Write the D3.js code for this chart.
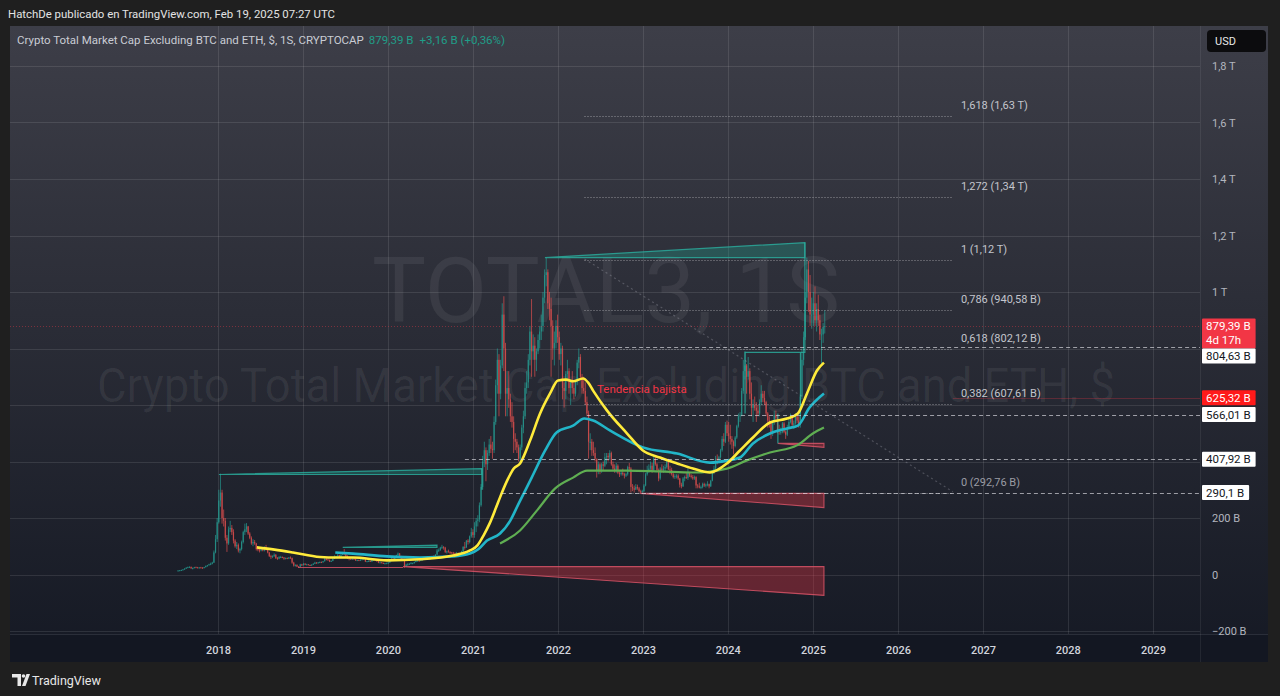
<!DOCTYPE html>
<html>
<head>
<meta charset="utf-8">
<script src="https://cdn.jsdelivr.net/npm/d3@7"></script>
<style>
  body { margin: 0; background: #1f1f1f; }
  svg { display: block; font-family: Roboto, "Noto Sans", sans-serif; }
</style>
</head>
<body>
<svg id="chart" width="1280" height="696"></svg>
<script>
// ------- DATA (values in billions USD) -------
// weekly candles per year: [high, low, close]; open = previous close
const candles2017 = [[15,12,14],[16,13,15],[17,14,16],[19,15,18],[22,17,21],[26,20,24],[28,23,26],[29,24,27],[28,20,22],[25,18,23],[27,22,26],[28,24,25],[27,23,24],[26,22,25],[27,23,24],[26,22,23],[27,22,26],[32,25,30],[34,28,33],[38,32,36],[42,33,38],[45,36,42],[85,41,78],[140,75,125],[200,115,185]];
const candles2018 = [[300,180,262],[357,240,290],[300,180,200],[230,170,190],[200,120,130],[140,80,110],[170,105,160],[190,150,165],[175,140,150],[160,110,120],[125,95,100],[115,90,105],[110,78,85],[95,75,90],[120,85,115],[155,110,150],[180,140,160],[182,150,170],[172,140,145],[150,125,130],[135,105,110],[125,100,115],[122,105,110],[112,85,90],[95,82,88],[92,78,85],[95,82,90],[95,82,85],[100,82,95],[105,85,90],[92,75,78],[80,62,65],[70,55,62],[68,58,65],[75,62,70],[72,55,58],[62,52,56],[65,54,62],[66,58,62],[64,58,60],[62,52,56],[60,54,58],[60,55,57],[62,55,60],[64,56,58],[60,38,42],[45,28,32],[36,28,34],[36,26,28],[30,24,27],[38,26,36],[38,30,33],[40,32,38]];
const candles2019 = [[40,33,35],[38,33,36],[37,33,34],[35,30,32],[36,31,35],[40,34,38],[45,37,42],[44,39,41],[44,39,43],[46,41,44],[46,42,43],[48,42,47],[58,46,55],[58,50,53],[56,50,52],[53,44,46],[50,45,48],[58,47,56],[68,55,62],[66,58,64],[72,62,68],[70,60,62],[72,60,70],[80,68,78],[90,68,72],[78,62,64],[68,55,58],[62,50,56],[58,52,53],[58,52,56],[60,53,55],[56,48,50],[53,48,51],[53,48,49],[54,48,53],[56,51,54],[58,52,56],[56,44,46],[48,44,47],[50,45,48],[49,45,46],[54,44,52],[55,50,52],[54,49,50],[51,46,47],[48,40,42],[45,40,43],[44,40,41],[42,38,39],[41,36,40],[42,39,40],[44,39,42]];
const candles2020 = [[50,42,48],[58,47,56],[58,52,54],[62,53,60],[70,58,68],[78,66,74],[76,62,64],[66,54,56],[60,52,55],[56,24,30],[38,27,35],[40,32,36],[40,34,38],[44,37,40],[42,37,40],[46,39,44],[52,43,48],[54,46,50],[52,45,49],[54,48,51],[56,49,55],[60,54,57],[59,54,56],[58,53,55],[57,52,54],[60,53,59],[66,58,65],[68,62,64],[72,63,70],[90,70,85],[92,80,86],[98,84,95],[105,90,98],[100,88,95],[98,76,80],[85,74,82],[88,78,80],[82,72,78],[80,74,77],[80,72,75],[78,72,74],[80,72,76],[78,68,70],[78,66,76],[84,75,82],[100,80,98],[115,88,96],[122,94,120],[125,106,115],[138,110,135],[165,130,150],[160,130,140]];
const candles2021 = [[185,130,170],[200,150,190],[210,170,195],[255,185,245],[320,240,310],[420,300,400],[470,380,440],[450,330,390],[440,370,430],[480,420,460],[490,430,445],[470,410,440],[560,430,540],[690,530,670],[800,640,760],[780,560,640],[760,620,740],[960,730,920],[985,720,800],[820,560,640],[720,560,660],[720,590,620],[640,540,560],[610,520,540],[560,430,480],[500,440,470],[480,430,450],[460,400,410],[460,393,450],[530,440,520],[580,500,560],[680,550,660],[720,640,680],[780,660,760],[880,740,860],[975,700,790],[850,760,810],[840,700,760],[800,720,790],[850,780,830],[880,800,860],[920,830,880],[1000,860,980],[1080,960,1060],[1122,1020,1070],[1080,940,960],[1000,900,940],[980,700,880],[900,760,800],[860,740,820],[900,800,880],[920,820,840]];
const candles2022 = [[860,760,780],[820,740,800],[810,620,660],[680,591,650],[720,620,710],[760,690,720],[730,640,660],[690,600,680],[720,640,660],[680,620,640],[690,630,680],[760,670,750],[800,730,770],[780,690,700],[710,640,660],[700,640,650],[680,600,610],[630,560,570],[580,410,470],[500,440,470],[480,420,440],[470,420,430],[450,400,410],[410,343,370],[400,355,390],[395,355,365],[395,360,390],[400,370,385],[430,380,415],[430,390,420],[430,400,415],[440,405,430],[435,385,390],[400,370,375],[390,360,370],[395,360,385],[390,355,360],[370,345,355],[370,350,360],[375,350,355],[360,340,350],[360,345,355],[385,350,380],[395,370,375],[380,290,310],[320,295,305],[315,290,300],[320,300,310],[318,300,305],[310,290,295],[300,288,292],[300,288,295]];
const candles2023 = [[320,292,315],[360,312,355],[385,350,370],[390,360,375],[400,365,385],[395,360,370],[420,365,410],[421,385,390],[395,365,370],[375,330,340],[380,335,375],[390,360,370],[385,360,375],[390,365,380],[405,375,400],[410,370,372],[385,355,370],[378,350,355],[360,340,345],[355,338,348],[355,340,350],[355,335,340],[342,308,318],[325,305,312],[345,310,340],[350,330,345],[360,338,342],[375,335,360],[362,345,350],[355,340,345],[352,335,340],[350,335,345],[348,305,315],[320,305,312],[325,305,308],[315,302,310],[325,305,320],[325,310,315],[322,308,318],[330,312,320],[322,305,312],[335,310,332],[370,330,360],[385,355,375],[420,370,410],[425,390,405],[420,395,415],[445,410,440],[490,435,480],[500,455,470],[540,465,530],[545,490,500]];
const candles2024 = [[540,470,490],[530,460,480],[490,445,470],[475,425,455],[490,450,485],[530,480,525],[570,520,560],[575,540,565],[660,560,650],[760,640,720],[790,690,740],[745,640,700],[770,690,720],[730,620,640],[680,560,590],[620,540,600],[630,580,590],[610,540,580],[600,560,570],[620,560,610],[670,600,640],[650,610,625],[650,600,610],[615,560,570],[575,520,545],[560,520,540],[545,480,500],[545,490,540],[580,530,565],[580,540,555],[565,500,510],[530,495,505],[520,495,505],[540,500,535],[540,500,505],[510,480,495],[530,490,520],[550,515,540],[570,535,560],[565,520,530],[545,515,535],[570,530,560],[565,535,545],[560,520,530],[640,520,630],[800,620,760],[860,740,840],[1000,830,980],[1122,960,1080],[1110,930,1000],[1060,880,920],[980,870,920],[1000,880,960]];
const candles2025 = [[1020,880,900],[960,860,940],[990,880,900],[920,830,850],[870,745,850],[890,820,876.23],[935,853,879.39]];
const firstOpen = 12;
const yearBlocks = [
  ["2017-07-10", candles2017], ["2018-01-01", candles2018], ["2019-01-07", candles2019],
  ["2020-01-06", candles2020], ["2021-01-04", candles2021], ["2022-01-03", candles2022],
  ["2023-01-02", candles2023], ["2024-01-01", candles2024], ["2025-01-06", candles2025]
];

// moving averages: [date, value]
const maYellow = [["2018-06-17",96],["2018-09-01",88],["2018-11-19",78],["2019-03-15",62],["2019-05-27",60],["2019-08-04",60],["2019-12-28",50],["2020-05-18",54],["2020-10-07",67],["2020-12-19",85],["2021-01-20",103],["2021-02-15",138],["2021-03-13",180],["2021-04-10",237],["2021-04-27",273],["2021-05-28",333],["2021-06-25",375],["2021-07-22",393],["2021-09-03",474],["2021-10-16",570],["2021-11-28",641],["2022-01-01",687],["2022-02-05",690],["2022-03-07",684],["2022-04-19",694],["2022-05-10",680],["2022-06-01",651],["2022-07-31",580],["2022-10-25",499],["2023-01-01",439],["2023-03-15",414],["2023-05-28",393],["2023-08-04",375],["2023-10-16",361],["2023-12-28",393],["2024-02-22",439],["2024-04-18",485],["2024-06-30",538],["2024-09-11",552],["2024-10-28",570],["2024-12-06",641],["2025-01-18",722],["2025-02-17",750]];
const maCyan = [["2019-05-20",78],["2019-08-04",74],["2019-12-28",64],["2020-05-18",60],["2020-10-07",64],["2020-12-19",74],["2021-01-25",90],["2021-03-02",120],["2021-04-27",145],["2021-06-10",191],["2021-07-16",251],["2021-09-10",343],["2021-11-07",439],["2021-12-26",503],["2022-03-07",527],["2022-04-24",552],["2022-06-01",545],["2022-08-12",510],["2023-01-01",450],["2023-05-28",428],["2023-10-16",396],["2023-12-28",403],["2024-02-22",414],["2024-04-18",464],["2024-06-30",499],["2024-09-11",517],["2024-10-28",527],["2024-12-17",591],["2025-02-17",641]];
const maGreen = [["2021-04-27",110],["2021-07-22",156],["2021-10-03",227],["2021-12-20",305],["2022-03-07",343],["2022-05-06",368],["2022-10-25",368],["2023-03-15",365],["2023-08-04",361],["2023-12-28",375],["2024-03-23",404],["2024-06-30",432],["2024-10-24",457],["2024-12-31",499],["2025-02-17",520]];

// drawings
const tealWedges = [
  { from: "2018-01-05", to: "2021-02-08", base: 354, top: 375 },
  { from: "2019-06-21", to: "2020-07-30", base: 96, top: 104 },
  { from: "2021-11-06", to: "2024-11-27", base: 1122, top: 1175 }
];
const redWedges = [
  { from: "2020-03-06", to: "2025-02-17", base: 28, bottom: -74 },
  { from: "2022-12-19", to: "2025-02-17", base: 287, bottom: 237 },
  { from: "2024-08-03", to: "2025-02-17", base: 464, bottom: 450 }
];
const tealLines = [
  [["2024-03-15",570],["2024-03-15",786],["2024-11-27",786],["2024-11-27",1175]],
  [["2024-11-08",786],["2024-11-08",570]],
  [["2024-08-03",570],["2024-08-03",464]],
  [["2021-02-08",375],["2021-02-08",300]]
];
const redLines = [[["2018-12-11",25],["2020-03-06",25]]];

const fibRatios = ["0", "0,382", "0,618", "0,786", "1", "1,272", "1,618"];
const fibPrices = [292.76, 607.61, 802.12, 940.58, 1116.97, 1341.3, 1626.0];
const fibPriceText = ["292,76 B", "607,61 B", "802,12 B", "940,58 B", "1,12 T", "1,34 T", "1,63 T"];
const fibFrom = "2022-04-25", fibTo = "2026-08-25";

const rays = [
  { from: "2022-04-19", v: 804.63 },
  { from: "2022-05-06", v: 566.01 },
  { from: "2020-11-27", v: 407.92 },
  { from: "2021-05-05", v: 290.1 }
];
const lastPrice = 879.39;

const priceTicks = [-200, 0, 200, 400, 600, 800, 1000, 1200, 1400, 1600, 1800];
const yearTicks = ["2018","2019","2020","2021","2022","2023","2024","2025","2026","2027","2028","2029"];
const priceTags = [
  { v: 879.39, lines: ["879,39 B", "4d 17h"], kind: "last" },
  { v: 804.63, lines: ["804,63 B"], kind: "line" },
  { v: 625.32, lines: ["625,32 B"], kind: "red" },
  { v: 566.01, lines: ["566,01 B"], kind: "line" },
  { v: 407.92, lines: ["407,92 B"], kind: "line" },
  { v: 290.1, lines: ["290,1 B"], kind: "line" }
];

// ------- SETUP -------
const parse = d3.utcParse("%Y-%m-%d");
const svg = d3.select("#chart");
const plot = { left: 10, right: 1200, top: 26, bottom: 634 };

const x = d3.scaleUtc().domain([parse("2018-01-01"), parse("2029-01-01")]).range([218, 1153]);
const y = d3.scaleLinear().domain([-200, 1800]).range([631, 66]);

const defs = svg.append("defs");
const grad = defs.append("linearGradient").attr("id", "bg")
  .attr("x1", 0).attr("y1", 0).attr("x2", 0).attr("y2", 1);
grad.append("stop").attr("offset", "0%").attr("stop-color", "#3d3e48");
grad.append("stop").attr("offset", "45%").attr("stop-color", "#2b2d37");
grad.append("stop").attr("offset", "100%").attr("stop-color", "#151924");
defs.append("clipPath").attr("id", "clip").append("rect")
  .attr("x", plot.left).attr("y", plot.top)
  .attr("width", plot.right - plot.left).attr("height", plot.bottom - plot.top);

// panel
svg.append("rect").attr("x", 10).attr("y", 26).attr("width", 1258).attr("height", 636).attr("fill", "url(#bg)");
svg.append("rect").attr("x", 10).attr("y", plot.bottom).attr("width", 1258).attr("height", 28).attr("fill", "#131722");
svg.append("line").attr("x1", 10).attr("x2", 1268).attr("y1", plot.bottom + 0.5).attr("y2", plot.bottom + 0.5)
  .attr("stroke", "#2a2e39");
svg.append("line").attr("x1", plot.right + 0.5).attr("x2", plot.right + 0.5).attr("y1", 26).attr("y2", 662)
  .attr("stroke", "rgba(255,255,255,0.07)");

const chart = svg.append("g").attr("clip-path", "url(#clip)");

// grid
chart.append("g").selectAll("line").data(priceTicks).join("line")
  .attr("x1", plot.left).attr("x2", plot.right)
  .attr("y1", d => Math.round(y(d)) + 0.5).attr("y2", d => Math.round(y(d)) + 0.5)
  .attr("stroke", "rgba(255,255,255,0.1)");
chart.append("g").selectAll("line").data(yearTicks).join("line")
  .attr("x1", d => Math.round(x(parse(d + "-01-01"))) + 0.5).attr("x2", d => Math.round(x(parse(d + "-01-01"))) + 0.5)
  .attr("y1", plot.top).attr("y2", plot.bottom)
  .attr("stroke", "rgba(255,255,255,0.1)");

// watermarks
chart.append("text").attr("x", 606).attr("y", 322).attr("text-anchor", "middle")
  .attr("font-size", 90).attr("fill", "rgba(255,255,255,0.065)")
  .attr("textLength", 468).attr("lengthAdjust", "spacingAndGlyphs")
  .text("TOTAL3, 1S");
chart.append("text").attr("x", 606).attr("y", 402).attr("text-anchor", "middle")
  .attr("font-size", 48).attr("fill", "rgba(255,255,255,0.065)")
  .attr("textLength", 1018).attr("lengthAdjust", "spacingAndGlyphs")
  .text("Crypto Total Market Cap Excluding BTC and ETH, $");

// ------- CANDLES -------
const candles = [];
let prevClose = firstOpen;
yearBlocks.forEach(([start, rows]) => {
  const d0 = parse(start);
  rows.forEach((r, i) => {
    candles.push({ date: d3.utcDay.offset(d0, 7 * i), open: prevClose, high: r[0], low: r[1], close: r[2] });
    prevClose = r[2];
  });
});
const upColor = "#26a69a", downColor = "#ef5350";
const cg = chart.append("g").attr("opacity", 0.8);
cg.selectAll("line").data(candles).join("line")
  .attr("x1", d => x(d.date) + 0.8).attr("x2", d => x(d.date) + 0.8)
  .attr("y1", d => y(Math.max(d.high, d.open, d.close)))
  .attr("y2", d => y(Math.min(d.low, d.open, d.close)))
  .attr("stroke", d => d.close >= d.open ? upColor : downColor)
  .attr("stroke-width", 0.8);
cg.selectAll("rect").data(candles).join("rect")
  .attr("x", d => x(d.date) + 0.2).attr("width", 1.2)
  .attr("y", d => y(Math.max(d.open, d.close)))
  .attr("height", d => Math.max(1, y(Math.min(d.open, d.close)) - y(Math.max(d.open, d.close))))
  .attr("fill", d => d.close >= d.open ? upColor : downColor);

// ------- DRAWINGS -------
const pt = p => [x(parse(p[0])), y(p[1])];
const dg = chart.append("g");
tealWedges.forEach(w => {
  const a = [x(parse(w.from)), y(w.base)], b = [x(parse(w.to)), y(w.top)], c = [x(parse(w.to)), y(w.base)];
  dg.append("path").attr("d", d3.line()([a, b, c]) + "Z")
    .attr("fill", "rgba(34,171,148,0.3)").attr("stroke", "#2bb0a0").attr("stroke-width", 1.2).attr("stroke-opacity", 0.8);
});
redWedges.forEach(w => {
  const a = [x(parse(w.from)), y(w.base)], b = [x(parse(w.to)), y(w.base)], c = [x(parse(w.to)), y(w.bottom)];
  dg.append("path").attr("d", d3.line()([a, b, c]) + "Z")
    .attr("fill", "rgba(242,54,69,0.35)").attr("stroke", "#e0566a").attr("stroke-width", 1.1).attr("stroke-opacity", 0.8);
});
tealLines.forEach(l => dg.append("path").attr("d", d3.line()(l.map(pt)))
  .attr("fill", "none").attr("stroke", "#2bb0a0").attr("stroke-width", 1.2).attr("stroke-opacity", 0.8));
redLines.forEach(l => dg.append("path").attr("d", d3.line()(l.map(pt)))
  .attr("fill", "none").attr("stroke", "#e0566a").attr("stroke-width", 1.1).attr("stroke-opacity", 0.8));

// ------- MOVING AVERAGES -------
const maLine = d3.line().x(d => x(parse(d[0]))).y(d => y(d[1])).curve(d3.curveMonotoneX);
[[maGreen, "#5fae52", 2.2], [maCyan, "#22b5c8", 2.6], [maYellow, "#ffeb3b", 2.6]].forEach(([data, color, w]) => {
  chart.append("path").datum(data).attr("d", maLine)
    .attr("fill", "none").attr("stroke", color).attr("stroke-width", w).attr("stroke-linejoin", "round");
});

// ------- FIB / LEVELS -------
const fx0 = x(parse(fibFrom)), fx1 = x(parse(fibTo));
chart.append("line").attr("x1", fx0).attr("y1", y(fibPrices[4])).attr("x2", fx1).attr("y2", y(fibPrices[0]))
  .attr("stroke", "rgba(190,190,200,0.28)").attr("stroke-width", 1.2).attr("stroke-dasharray", "2,3");
const fibG = chart.append("g");
fibPrices.forEach((p, i) => {
  const yy = Math.round(y(p)) + 1.5;
  fibG.append("line").attr("x1", fx0).attr("x2", fx1).attr("y1", yy).attr("y2", yy)
    .attr("stroke", "rgba(210,210,215,0.6)").attr("stroke-dasharray", "1,2");
  fibG.append("text").attr("x", fx1 + 8).attr("y", yy - 8)
    .attr("font-size", 11).attr("fill", i === 0 ? "#9a9ca4" : "#c3c5cc")
    .text(`${fibRatios[i]} (${fibPriceText[i]})`);
});
rays.forEach(r => {
  const yy = Math.round(y(r.v)) + 0.5;
  chart.append("line").attr("x1", x(parse(r.from))).attr("x2", plot.right).attr("y1", yy).attr("y2", yy)
    .attr("stroke", "rgba(225,225,230,0.65)").attr("stroke-dasharray", "4,3");
});
chart.append("line").attr("x1", plot.left).attr("x2", plot.right)
  .attr("y1", Math.round(y(lastPrice)) + 0.5).attr("y2", Math.round(y(lastPrice)) + 0.5)
  .attr("stroke", "rgba(242,54,69,0.4)").attr("stroke-dasharray", "1,2");
chart.append("line").attr("x1", fx1).attr("x2", plot.right)
  .attr("y1", Math.round(y(625.32)) + 0.5).attr("y2", Math.round(y(625.32)) + 0.5)
  .attr("stroke", "rgba(242,54,69,0.28)");
chart.append("text").attr("x", 597).attr("y", 393).attr("font-size", 11.5).attr("fill", "#f23645")
  .text("Tendencia bajista");

// ------- AXES -------
// price tags first, so that the tick labels they would cover can be left out
const tagColors = { last: ["#f23645", "#ffffff"], red: ["#ff1a1a", "#ffffff"], line: ["#ffffff", "#131722"] };
const tagBoxes = [];
let prevBottom = -Infinity;
priceTags.forEach(t => {
  const h = 15 * t.lines.length;
  let top = y(t.v) - 7.5;
  if (top < prevBottom) top = prevBottom;
  prevBottom = top + h;
  tagBoxes.push({ t, top, h });
});
const fmtPrice = v => v === 0 ? "0" : Math.abs(v) >= 1000
  ? String(v / 1000).replace(".", ",") + " T"
  : (v < 0 ? "−" : "") + Math.abs(v) + " B";
const visibleTicks = priceTicks.filter(v => !tagBoxes.some(b => y(v) > b.top - 6 && y(v) < b.top + b.h + 6));
svg.append("g").attr("transform", "translate(1212,0)")
  .call(d3.axisRight(y).tickValues(visibleTicks).tickSize(0).tickPadding(0).tickFormat(fmtPrice))
  .call(g => g.select(".domain").remove())
  .selectAll("text").attr("fill", "#b2b5be").attr("font-size", 11).attr("font-family", "Roboto");
svg.append("g").attr("transform", `translate(0,${plot.bottom + 12})`)
  .call(d3.axisBottom(x).tickValues(yearTicks.map(d => parse(d + "-01-01"))).tickSize(0).tickPadding(0)
    .tickFormat(d3.utcFormat("%Y")))
  .call(g => g.select(".domain").remove())
  .selectAll("text").attr("fill", "#d1d4dc").attr("font-size", 11).attr("font-weight", 500).attr("font-family", "Roboto");

tagBoxes.forEach(({ t, top, h }) => {
  const g = svg.append("g");
  const rect = g.append("rect").attr("x", 1202).attr("y", top).attr("height", h).attr("rx", 1).attr("fill", tagColors[t.kind][0]);
  let w = 0;
  t.lines.forEach((s, i) => {
    const tx = g.append("text").attr("x", 1206).attr("y", top + 11.5 + 14 * i)
      .attr("font-size", 11.5).attr("fill", tagColors[t.kind][1]).text(s);
    w = Math.max(w, tx.node().getComputedTextLength());
  });
  rect.attr("width", w + 9);
});

// ------- HEADER / LEGEND / FOOTER -------
svg.append("text").attr("x", 8).attr("y", 18).attr("font-size", 11.5).attr("fill", "#e3e3e3")
  .attr("textLength", 327).attr("lengthAdjust", "spacingAndGlyphs")
  .text("HatchDe publicado en TradingView.com, Feb 19, 2025 07:27 UTC");
const leg = svg.append("text").attr("x", 17).attr("y", 44).attr("font-size", 11.5);
leg.append("tspan").attr("fill", "#c9ccd4").text("Crypto Total Market Cap Excluding BTC and ETH, $, 1S, CRYPTOCAP");
leg.append("tspan").attr("fill", "#1f9e88").attr("dx", 5).text("879,39 B");
leg.append("tspan").attr("fill", "#1f9e88").attr("dx", 6).text("+3,16 B (+0,36%)");

svg.append("rect").attr("x", 1207).attr("y", 30).attr("width", 59).attr("height", 22).attr("rx", 4).attr("fill", "#0c0c0e");
svg.append("text").attr("x", 1215).attr("y", 45).attr("font-size", 11).attr("fill", "#e8e8e8").text("USD");

const logo = svg.append("g").attr("fill", "#e8e8e8");
logo.append("path").attr("d", "M12,674 H21 V686 H17.5 V677.5 H12 Z");
logo.append("circle").attr("cx", 23.5).attr("cy", 676).attr("r", 1.8);
logo.append("path").attr("d", "M22,686 L26.5,674 H30 L25.5,686 Z");
svg.append("text").attr("x", 32).attr("y", 684.5).attr("font-size", 12.5).attr("fill", "#e8e8e8").text("TradingView");
</script>
</body>
</html>
